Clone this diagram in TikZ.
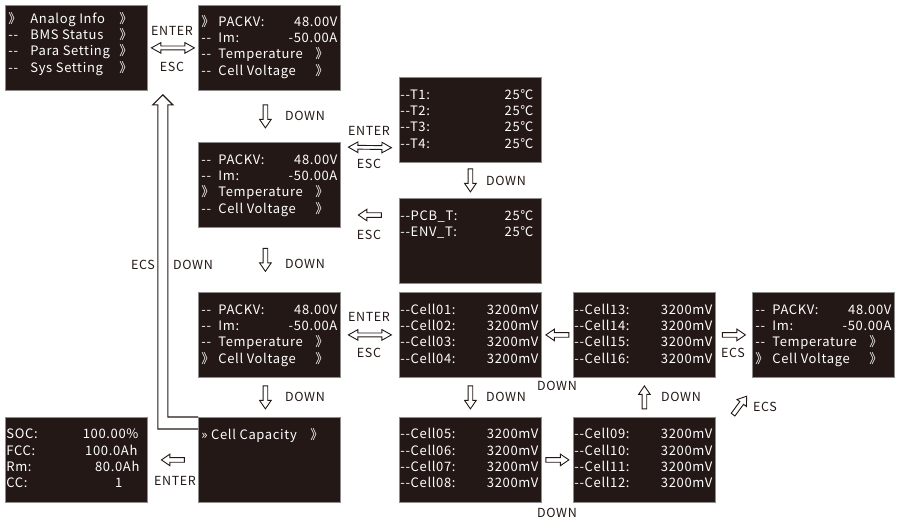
\documentclass[tikz,border=0pt]{standalone}
\usepackage{fontspec}
\setmainfont{Noto Sans CJK SC}[LetterSpace=5]
\usetikzlibrary{calc}
\definecolor{lcdbg}{HTML}{231815}
\definecolor{lcdedge}{HTML}{8C8C8C}
\definecolor{ink}{HTML}{231815}

% one line of a screen
\newcommand\vrow[3]{\hbox to 136pt{\strut\hbox to 17pt{#1\hfil}#2\hfil#3}}
\newcommand\crow[3]{\hbox to 136pt{\strut\hbox to 17pt{#1\hfil}\hbox to 97pt{#2\hfil}#3\hfil}}
\newcommand\mrow[3]{\hbox to 136pt{\strut\hbox to 22pt{#1\hfil}\hbox to 89pt{#2\hfil}#3\hfil}}
\newcommand\lrow[2]{\hbox to 136pt{\strut\kern-2pt#1\hfil#2}}
\newcommand\lcd[2][10.5pt]{\vbox to 85pt{\hsize=136pt\fontsize{13}{16.3}\selectfont\vskip#1\relax#2\vfil}}

\begin{document}
\begin{tikzpicture}[x=1pt, y=-1pt]
		\tikzstyle{lcd}=[draw=lcdedge, line width=0.8pt, fill=lcdbg, text=white, anchor=north west, minimum width=142pt, minimum height=85pt, inner sep=0pt]
		\tikzstyle{lbl}=[text=ink, inner sep=0pt, font=\fontsize{12.5}{14}\selectfont]
		\tikzstyle{hollow}=[draw=ink, line width=0.9pt, fill=white, to path={let \p1=(\tikztostart), \p2=(\tikztotarget), \n1={atan2(\y2-\y1,\x2-\x1)} in {[shift={({0.5*\x1+0.5*\x2},{0.5*\y1+0.5*\y2})}, rotate=\n1] (-11.5pt,-2.3pt) -- (3pt,-2.3pt) -- (3pt,-5.8pt) -- (11.5pt,0pt) -- (3pt,5.8pt) -- (3pt,2.3pt) -- (-11.5pt,2.3pt) -- cycle}}]
		\tikzstyle{hollowboth}=[draw=ink, line width=0.9pt, fill=white, to path={let \p1=(\tikztostart), \p2=(\tikztotarget), \n1={atan2(\y2-\y1,\x2-\x1)} in {[shift={({0.5*\x1+0.5*\x2},{0.5*\y1+0.5*\y2})}, rotate=\n1] (-21.5pt,0pt) -- (-12pt,-5.3pt) -- (-12pt,-1.9pt) -- (12pt,-1.9pt) -- (12pt,-5.3pt) -- (21.5pt,0pt) -- (12pt,5.3pt) -- (12pt,1.9pt) -- (-12pt,1.9pt) -- (-12pt,5.3pt) -- cycle}}]

		\useasboundingbox (0,0) rectangle (900,522);

    % Main menu
		\node[lcd](menu) at (5,5){\lcd[6.5pt]{\mrow{》}{Analog Info}{》}\mrow{-{}-}{BMS Status}{》}\mrow{-{}-}{Para Setting}{》}\mrow{-{}-}{Sys Setting}{》}}};

    % Analog info, cursor going down
		\node[lcd](anlg) at (198,5){\lcd[9.5pt]{\vrow{》}{PACKV:}{48.00V}\vrow{-{}-}{Im:}{-50.00A}\crow{-{}-}{Temperature}{》}\crow{-{}-}{Cell Voltage}{》}}};
		\node[lcd](temp) at (198,142){\lcd{\vrow{-{}-}{PACKV:}{48.00V}\vrow{-{}-}{Im:}{-50.00A}\crow{》}{Temperature}{》}\crow{-{}-}{Cell Voltage}{》}}};
		\node[lcd](cellv) at (198,292){\lcd{\vrow{-{}-}{PACKV:}{48.00V}\vrow{-{}-}{Im:}{-50.00A}\crow{-{}-}{Temperature}{》}\crow{》}{Cell Voltage}{》}}};
		\node[lcd](cap) at (198,417){\lcd{\hbox to 136pt{\strut\hbox to 109pt{» Cell Capacity\hfil}》\hfil}}};
		\node[lcd](soc) at (5,417){\lcd[10pt]{\lrow{SOC:}{100.00\%\kern6pt}\lrow{FCC:}{100.0Ah\kern7pt}\lrow{Rm:}{80.0Ah\kern5pt}\lrow{CC:}{1\kern22pt}}};

    % Temperatures
		\node[lcd](tsen) at (399,77){\lcd{\lrow{-{}-T1:}{25℃\kern5pt}\lrow{-{}-T2:}{25℃\kern5pt}\lrow{-{}-T3:}{25℃\kern5pt}\lrow{-{}-T4:}{25℃\kern5pt}}};
		\node[lcd](pcb) at (399,198){\lcd{\lrow{-{}-PCB\_T:}{25℃\kern5pt}\lrow{-{}-ENV\_T:}{25℃\kern5pt}}};

    % Cell voltages
		\node[lcd](c01) at (399,292){\lcd{\lrow{-{}-Cell01:}{3200mV}\lrow{-{}-Cell02:}{3200mV}\lrow{-{}-Cell03:}{3200mV}\lrow{-{}-Cell04:}{3200mV}}};
		\node[lcd](c05) at (399,417){\lcd[10pt]{\lrow{-{}-Cell05:}{3200mV}\lrow{-{}-Cell06:}{3200mV}\lrow{-{}-Cell07:}{3200mV}\lrow{-{}-Cell08:}{3200mV}}};
		\node[lcd](c09) at (573,417){\lcd[10pt]{\lrow{-{}-Cell09:}{3200mV}\lrow{-{}-Cell10:}{3200mV}\lrow{-{}-Cell11:}{3200mV}\lrow{-{}-Cell12:}{3200mV}}};
		\node[lcd](c13) at (573,292){\lcd{\lrow{-{}-Cell13:}{3200mV}\lrow{-{}-Cell14:}{3200mV}\lrow{-{}-Cell15:}{3200mV}\lrow{-{}-Cell16:}{3200mV}}};
		\node[lcd](ret) at (752,292){\lcd{\vrow{-{}-}{PACKV:}{48.00V}\vrow{-{}-}{Im:}{-50.00A}\crow{-{}-}{Temperature}{》}\crow{》}{Cell Voltage}{》}}};

		\draw[hollowboth] (menu.east) to (anlg.west);
		\draw[hollow] ([xshift=-4pt]anlg.south) to ([xshift=-4pt]temp.north);
		\draw[hollowboth] ([yshift=-5pt]temp.north east) to ([yshift=15pt]tsen.south west);
		\draw[hollow] (tsen.south) to (pcb.north);
		\draw[hollow] ([yshift=-17pt]pcb.north west) to ([yshift=-73pt]temp.north east);
		\draw[hollow] ([xshift=-4pt]temp.south) to ([xshift=-4pt]cellv.north);
		\draw[hollowboth] (cellv.east) to (c01.west);
		\draw[hollow] (c01.south) to (c05.north);
		\draw[hollow] (c05.east) to (c09.west);
		\draw[hollow] (c09.north) to (c13.south);
		\draw[hollow] (c13.west) to (c01.east);
		\draw[hollow] (c13.east) to (ret.west);
		\draw[hollow] ([shift={(17pt,2pt)}]c09.north east) to ([shift={(-5pt,-18pt)}]ret.south west);
		\draw[hollow] ([xshift=-4pt]cellv.south) to ([xshift=-4pt]cap.north);
		\draw[hollow] (cap.west) to (soc.east);

    % back to the main menu
		\coordinate (uptip) at ([shift={(15pt,-4pt)}]menu.south east);
		\draw[ink, line width=1.1pt] ([yshift=-12pt]cap.north west) -| ([shift={(-5pt,-10pt)}]uptip) -- ++(-5pt,0pt) -- (uptip) -- ++(10pt,-10pt) -- ++(-5pt,0pt) |- (cap.north west);

		\node[lbl](enter1) at (172,31){ENTER};
		\node[lbl](esc1) at (172,67){ESC};
		\node[lbl](down1) at (305,116){DOWN};
		\node[lbl](enter2) at (369,131){ENTER};
		\node[lbl](esc2) at (369,164){ESC};
		\node[lbl](down2) at (506,181){DOWN};
		\node[lbl](esc3) at (369,235){ESC};
		\node[lbl](ecs1) at (143,265){ECS};
		\node[lbl](down3) at (193,265){DOWN};
		\node[lbl](down4) at (305,264){DOWN};
		\node[lbl](enter3) at (369,317){ENTER};
		\node[lbl](esc4) at (369,353){ESC};
		\node[lbl](down5) at (557,386){DOWN};
		\node[lbl](down6) at (506,397){DOWN};
		\node[lbl](down7) at (681,397){DOWN};
		\node[lbl](ecs2) at (733,353){ECS};
		\node[lbl](ecs3) at (765,407){ECS};
		\node[lbl](down8) at (557,513){DOWN};
		\node[lbl](down9) at (305,397){DOWN};
		\node[lbl](enter4) at (175,481){ENTER};
\end{tikzpicture}
\end{document}
